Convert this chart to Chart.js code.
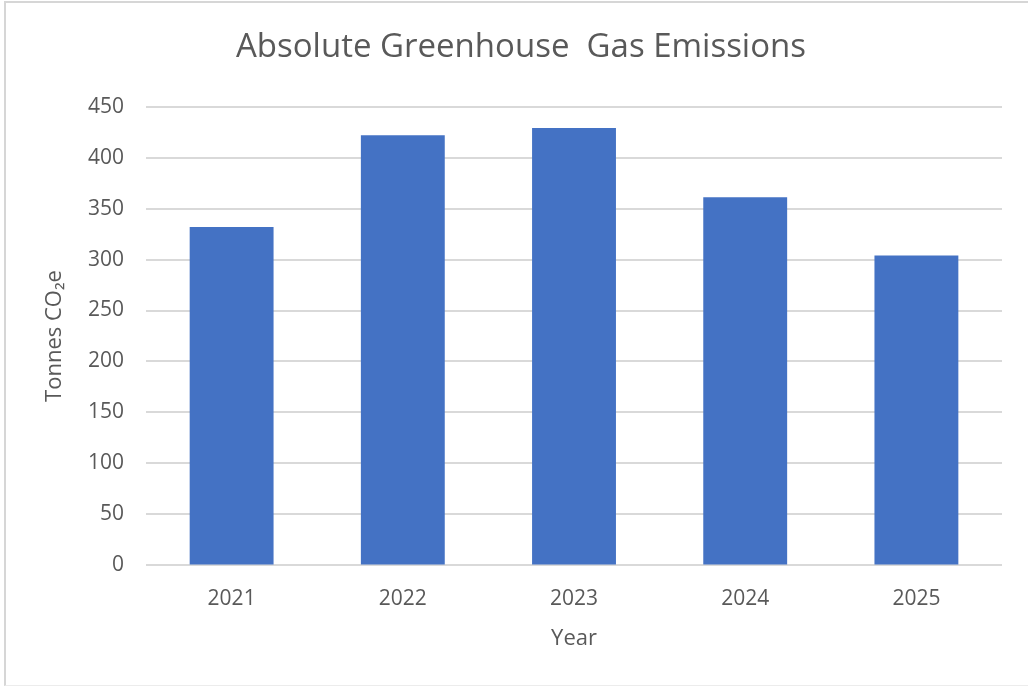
<!DOCTYPE html>
<html>
<head>
<meta charset="utf-8">
<script src="https://cdn.jsdelivr.net/npm/chart.js@4/dist/chart.umd.min.js"></script>
<style>
  html, body { margin: 0; padding: 0; background: #fff; overflow: hidden; }
  #frame {
    position: absolute; left: 4px; top: 1px; width: 1040px; height: 682px;
    border-left: 2px solid #d6d6d6; border-top: 2px solid #d6d6d6; border-bottom: 1px solid #ececec;
  }
  #chart { position: absolute; left: 0; top: 0; }
</style>
</head>
<body>
<div id="frame"></div>
<canvas id="chart" width="1028" height="686"></canvas>
<script>
// values
const years = ['2021', '2022', '2023', '2024', '2025'];
const emissions = [332, 422, 429, 361, 304];
const yTicks = [0, 50, 100, 150, 200, 250, 300, 350, 400, 450];

const grey = '#595959';
const fontFamily = "'Segoe UI', 'Open Sans', sans-serif";

const ctx = document.getElementById('chart');
new Chart(ctx, {
  type: 'bar',
  data: {
    labels: years,
    datasets: [{
      label: 'Emissions',
      data: emissions,
      backgroundColor: '#4472C4',
      categoryPercentage: 1,
      barPercentage: 0.49
    }]
  },
  options: {
    responsive: false,
    animation: false,
    devicePixelRatio: 1,
    layout: { padding: { left: 40, right: 26, top: 18, bottom: 30 } },
    plugins: {
      legend: { display: false },
      tooltip: { enabled: false },
      title: {
        display: true,
        text: 'Absolute Greenhouse  Gas Emissions',
        color: grey,
        font: { family: fontFamily, size: 33, weight: 'normal' },
        padding: { top: 10, bottom: 39 }
      }
    },
    scales: {
      x: {
        grid: { display: false },
        border: { display: false },
        ticks: { color: grey, font: { family: fontFamily, size: 21 }, padding: 13 },
        title: {
          display: true, text: 'Year', color: grey,
          font: { family: fontFamily, size: 22 },
          padding: { top: 1, bottom: 4 }
        }
      },
      y: {
        min: 0,
        max: 450,
        afterBuildTicks: (axis) => { axis.ticks = yTicks.map(v => ({ value: v })); },
        grid: { color: '#d9d9d9', lineWidth: 2, drawTicks: false },
        border: { display: false },
        ticks: { color: grey, font: { family: fontFamily, size: 21 }, padding: 22 },
        title: {
          display: true, text: 'Tonnes CO₂e', color: grey,
          font: { family: fontFamily, size: 22, lineHeight: 1 },
          padding: { top: 4, bottom: 0 }
        }
      }
    }
  }
});
</script>
</body>
</html>
